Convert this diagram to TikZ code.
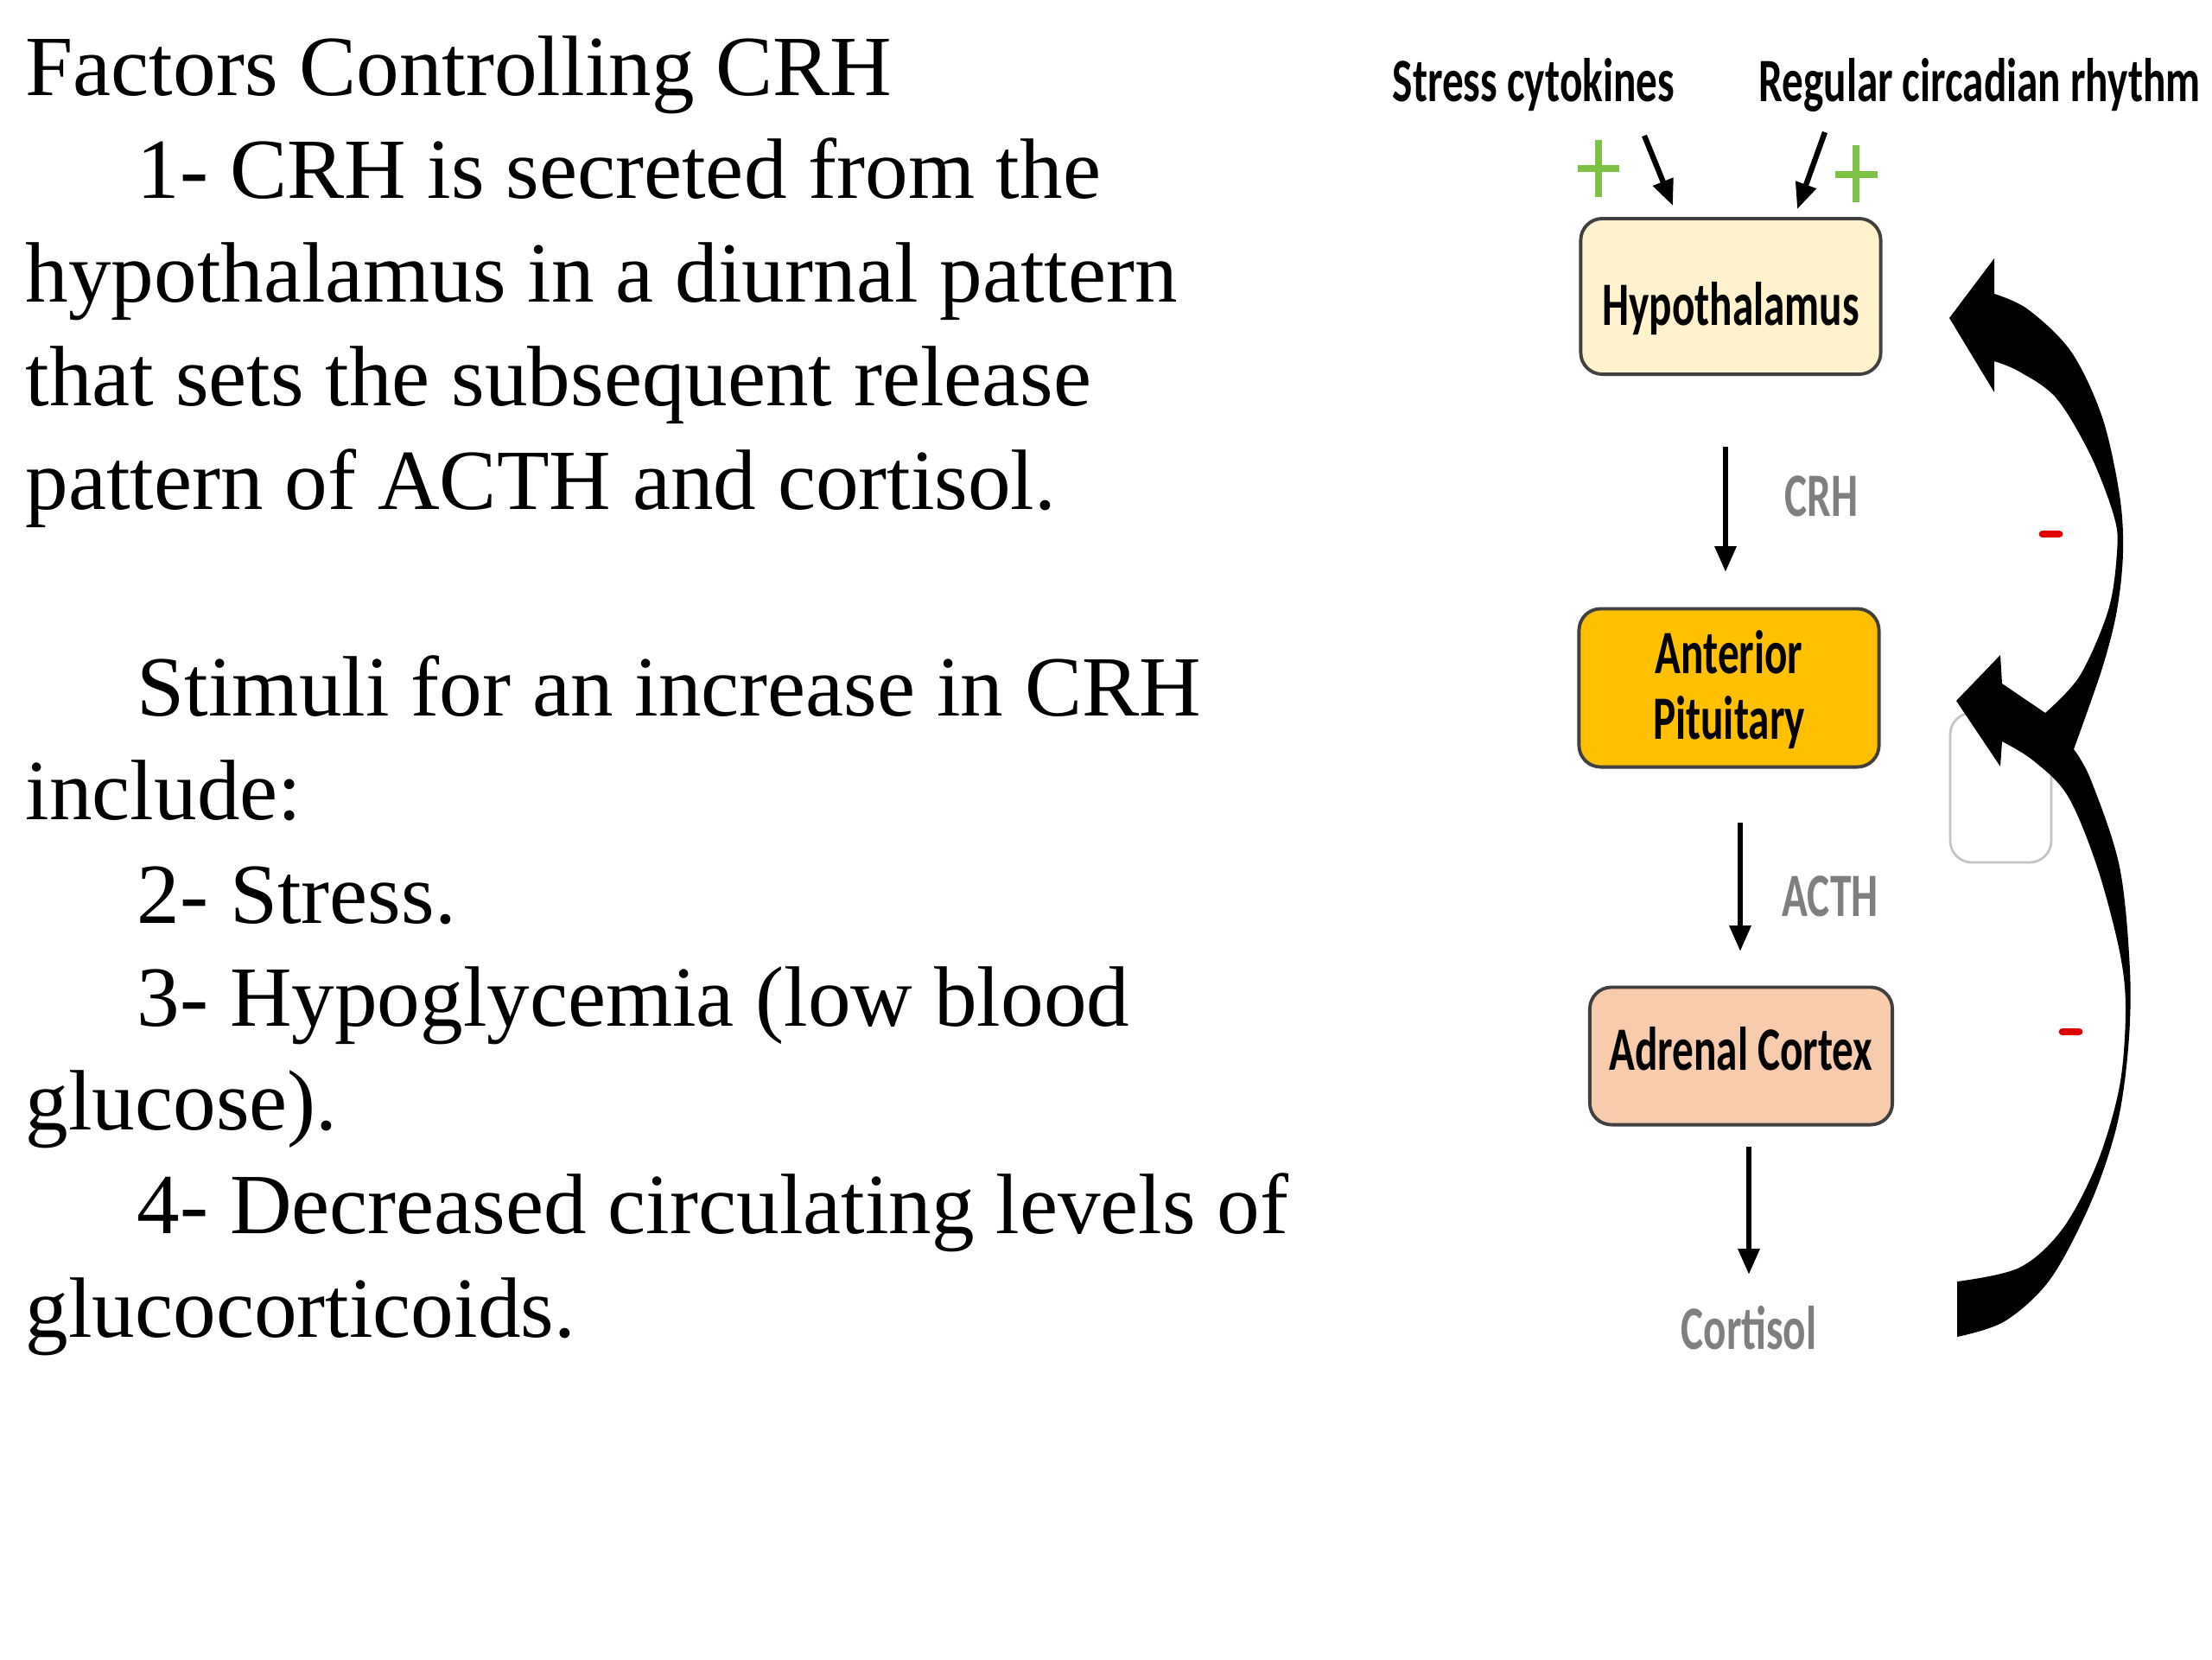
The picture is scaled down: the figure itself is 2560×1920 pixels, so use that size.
\documentclass[tikz,border=0pt]{standalone}
\usepackage{fontspec}
\usepackage{graphicx}
\setmainfont{Liberation Serif}
\newfontfamily\diafont{Carlito}
\usetikzlibrary{arrows.meta}

\definecolor{hypfill}{HTML}{FFF2CC}
\definecolor{pitfill}{HTML}{FFC000}
\definecolor{adrfill}{HTML}{F8CBAD}
\definecolor{boxline}{HTML}{404040}
\definecolor{lblgray}{HTML}{7F7F7F}
\definecolor{plusgreen}{HTML}{7DC242}
\definecolor{minusred}{HTML}{E00000}
\definecolor{faintgray}{HTML}{C4C4C4}

\newcommand{\tallt}[1]{\scalebox{1}[1.45]{#1}}
\newcommand{\shiftdn}[2]{\raisebox{0pt}[\dimexpr\height+#1\relax]{#2}}
\newcommand{\shiftupw}[2]{\raisebox{0pt}[\height][\dimexpr\depth+#1\relax]{#2}}

\begin{document}
\begin{tikzpicture}[x=0.01cm,y=-0.01cm,
  bodytext/.style={anchor=base west, inner sep=0pt, font=\fontsize{28.2}{34}\selectfont},
  organ/.style={draw=boxline, line width=1.1pt, rounded corners=0.25cm,
    minimum width=3.47cm, inner sep=0pt,
    font=\diafont\bfseries\fontsize{14}{15}\selectfont},
  dlabel/.style={anchor=base, inner sep=0pt, font=\diafont\bfseries\fontsize{14}{15}\selectfont},
  flow/.style={line width=1.8pt, -{Triangle[length=0.3cm,width=0.24cm]}},
  plussign/.style={line width=2.5pt, draw=plusgreen},
  minussign/.style={line width=2.5pt, draw=minusred, line cap=round},
]
\useasboundingbox[fill=white] (0,0) rectangle (2560,1920);

% ---- left text ----
\node[bodytext] (t1)  at (29,110)     {Factors Controlling CRH};
\node[bodytext] (t2)  at (158,229.75) {1- CRH is secreted from the};
\node[bodytext] (t3)  at (29,349.5)   {hypothalamus in a diurnal pattern};
\node[bodytext] (t4)  at (29,469.25)  {that sets the subsequent release};
\node[bodytext] (t5)  at (29,589)     {pattern of ACTH and cortisol.};
\node[bodytext] (t6)  at (158,828.5)  {Stimuli for an increase in CRH};
\node[bodytext] (t7)  at (29,948.25)  {include:};
\node[bodytext] (t8)  at (158,1068)   {2- Stress.};
\node[bodytext] (t9)  at (158,1187.75){3- Hypoglycemia (low blood};
\node[bodytext] (t10) at (29,1307.5)  {glucose).};
\node[bodytext] (t11) at (158,1427.25){4- Decreased circulating levels of};
\node[bodytext] (t12) at (29,1547)    {glucocorticoids.};

% ---- faint box ----
\draw[faintgray, line width=0.8pt, rounded corners=0.25cm] (2257,825) rectangle (2374,998);

% ---- organ boxes ----
\node[organ, fill=hypfill, minimum height=1.80cm] (hyp) at (2003,343)
  {\shiftdn{8pt}{\tallt{Hypothalamus}}};
\node[organ, fill=pitfill, minimum height=1.83cm] (pit) at (2001,796)
  {\shiftdn{3.4pt}{\tallt{\begin{tabular}{@{}c@{}}Anterior\\Pituitary\end{tabular}}}};
\node[organ, fill=adrfill, minimum height=1.59cm, minimum width=3.50cm] (adr) at (2015,1222)
  {\shiftupw{4.6pt}{\tallt{Adrenal Cortex}}};

% ---- labels ----
\node[dlabel] (stress) at (1775,117) {\tallt{Stress cytokines}};
\node[dlabel] (circ)   at (2291,117) {\tallt{Regular circadian rhythm}};
\node[dlabel, text=lblgray] (crh)  at (2108,597)  {\tallt{CRH}};
\node[dlabel, text=lblgray] (acth) at (2118,1060) {\tallt{ACTH}};
\node[dlabel, text=lblgray] (cort) at (2024,1561) {\tallt{Cortisol}};

% ---- thin arrows ----
\coordinate (sA) at (1903,157); \coordinate (sB) at (1936,238);
\coordinate (rA) at (2112,153); \coordinate (rB) at (2080,242);
\coordinate (cA) at (1997,517); \coordinate (cB) at (1997,662);
\coordinate (aA) at (2014,952); \coordinate (aB) at (2014,1101);
\coordinate (kA) at (2024,1327); \coordinate (kB) at (2024,1475);
\draw[flow] (sA) -- (sB);
\draw[flow] (rA) -- (rB);
\draw[flow] (cA) -- (cB);
\draw[flow] (aA) -- (aB);
\draw[flow] (kA) -- (kB);

% ---- plus / minus signs ----
\draw[plussign] (1826,195) -- (1874,195) (1850,162) -- (1850,228);
\draw[plussign] (2124,202) -- (2173,202) (2148,168) -- (2148,234);
\draw[minussign] (2364,618) -- (2383,618);
\draw[minussign] (2387,1194) -- (2406,1194);

% ---- feedback arrows (filled shape) ----
\fill[black] (2256,368) -- (2308,299) -- (2308,340)
  -- plot[smooth, tension=0.55] coordinates {(2308,340) (2347,358) (2397,407) (2433,483) (2453,573) (2457,639) (2450,706) (2433,773) (2400,867)}
  -- plot[smooth, tension=0.55] coordinates {(2400,867) (2420,903) (2453,1003) (2465,1123) (2463,1213) (2450,1302) (2420,1391) (2373,1480) (2320,1529) (2265,1547)}
  -- (2265,1483)
  -- plot[smooth, tension=0.55] coordinates {(2265,1483) (2337,1467) (2387,1422) (2427,1346) (2453,1257) (2460,1168) (2453,1101) (2427,1003) (2393,921) (2353,880) (2317,858)}
  -- (2315,887) -- (2264,811) -- (2315,758) -- (2317,791)
  -- (2367,825)
  -- plot[smooth, tension=0.55] coordinates {(2367,825) (2407,782) (2440,706) (2450,639) (2447,599) (2420,528) (2380,461) (2337,430) (2308,418)}
  -- (2308,454) -- cycle;
\end{tikzpicture}
\end{document}
